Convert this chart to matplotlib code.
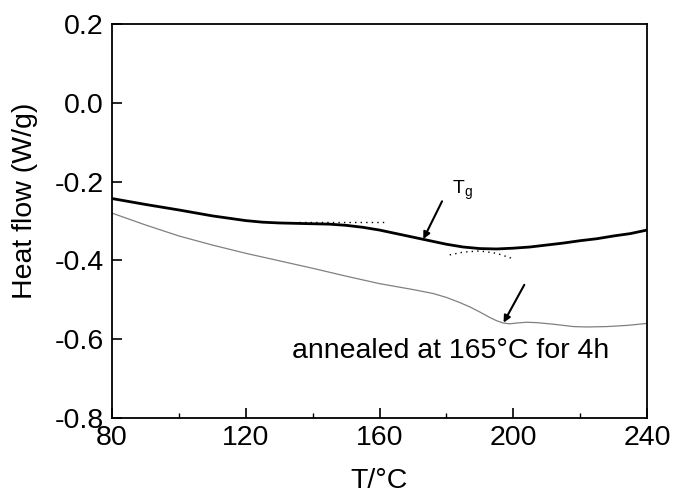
import matplotlib
matplotlib.use("Agg")
import matplotlib.pyplot as plt
from matplotlib.ticker import MultipleLocator

plt.rcParams["font.family"] = ["Liberation Sans", "DejaVu Sans"]
plt.rcParams["mathtext.default"] = "regular"

# ── data ──────────────────────────────────────────────────────────────
t_asis = [80, 90, 100, 110, 120, 125, 130, 135, 140, 145, 150, 155, 160,
          165, 170, 175, 180, 185, 190, 195, 200, 205, 210, 215, 220, 225,
          230, 235, 240]
hf_asis = [-0.243, -0.258, -0.272, -0.287, -0.299, -0.303, -0.305, -0.306,
           -0.307, -0.308, -0.311, -0.316, -0.323, -0.332, -0.341, -0.350,
           -0.359, -0.366, -0.370, -0.371, -0.369, -0.366, -0.361, -0.356,
           -0.350, -0.345, -0.338, -0.332, -0.323]

t_annealed = [80, 90, 100, 110, 120, 130, 140, 150, 160, 170, 176, 180, 184,
              187, 190, 193, 195, 197, 199, 201, 204, 207, 212, 218, 222,
              228, 234, 240]
hf_annealed = [-0.280, -0.310, -0.338, -0.361, -0.382, -0.401, -0.420,
               -0.440, -0.459, -0.474, -0.484, -0.494, -0.507, -0.518,
               -0.531, -0.545, -0.553, -0.559, -0.561, -0.559, -0.557,
               -0.558, -0.562, -0.568, -0.569, -0.568, -0.565, -0.560]

# tangent guides around the glass transition
t_tan_upper = [136, 162]
hf_tan_upper = [-0.3035, -0.3035]
t_tan_lower = [181, 185, 190, 195, 200]
hf_tan_lower = [-0.386, -0.379, -0.376, -0.382, -0.396]

x_ticks = [80, 120, 160, 200, 240]
y_ticks = [-0.8, -0.6, -0.4, -0.2, 0.0, 0.2]

FS = 20.5

# ── figure ────────────────────────────────────────────────────────────
fig = plt.figure(figsize=(6.73, 4.96), dpi=100)
ax = fig.add_axes([0.1664, 0.1573, 0.795, 0.7943])

ax.plot(t_asis, hf_asis, color="black", lw=2.0)
ax.plot(t_annealed, hf_annealed, color="#808080", lw=0.9)
ax.plot(t_tan_upper, hf_tan_upper, color="black", lw=1.0, ls=(0, (1, 3)))
ax.plot(t_tan_lower, hf_tan_lower, color="black", lw=1.0, ls=(0, (1, 3)))

arrow = dict(arrowstyle="-|>", color="black", lw=1.5,
             mutation_scale=10, shrinkA=0, shrinkB=0)
ax.annotate("", xy=(173.1, -0.346), xytext=(178.7, -0.250), arrowprops=arrow)
ax.annotate("", xy=(197.1, -0.558), xytext=(203.3, -0.462), arrowprops=arrow)

ax.text(181.6, -0.222, r"T$_{g}$", fontsize=14, va="center", ha="left")
ax.text(133.9, -0.648, "annealed at 165°C for 4h", fontsize=FS,
        va="baseline", ha="left")

ax.set_xlim(80, 240)
ax.set_ylim(-0.8, 0.2)
ax.set_xticks(x_ticks)
ax.set_yticks(y_ticks)
ax.set_yticklabels([f"{v:.1f}" for v in y_ticks])
ax.xaxis.set_minor_locator(MultipleLocator(20))

ax.tick_params(axis="both", which="major", direction="in", length=7,
               width=1.2, labelsize=FS, top=False, right=False)
ax.tick_params(axis="x", which="minor", direction="in", length=3.5,
               width=1.0, top=False)
ax.tick_params(axis="x", which="major", pad=5)
ax.tick_params(axis="y", which="major", pad=6)
for sp in ax.spines.values():
    sp.set_linewidth(1.3)

ax.set_xlabel("T/°C", fontsize=FS, labelpad=12)
ax.set_ylabel("Heat flow (W/g)", fontsize=FS)
ax.yaxis.set_label_coords(-0.138, 0.551)

fig.savefig("out.png", dpi=100)
